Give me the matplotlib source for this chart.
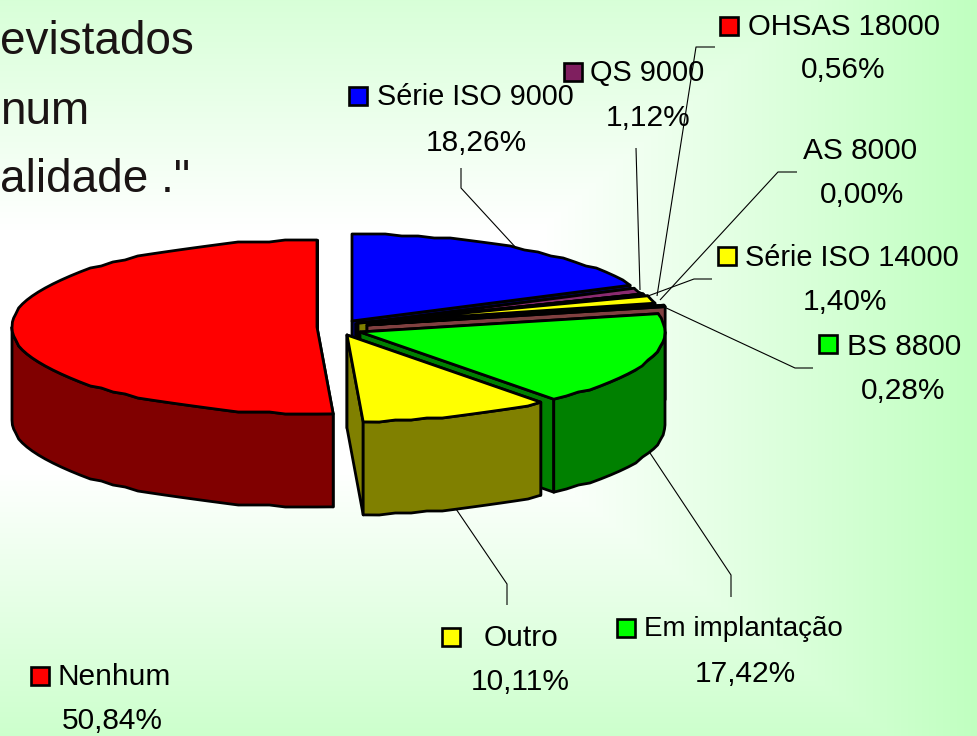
import numpy as np
import matplotlib
matplotlib.use("Agg")
import matplotlib.pyplot as plt
from matplotlib.patches import Polygon, Rectangle

# ---- data ----
categories = ["Série ISO 9000", "QS 9000", "OHSAS 18000", "AS 8000", "Série ISO 14000",
              "BS 8800", "Em implantação", "Outro", "Nenhum"]
values = [18.26, 1.12, 0.56, 0.00, 1.40, 0.28, 17.42, 10.11, 50.84]
value_labels = ["18,26%", "1,12%", "0,56%", "0,00%", "1,40%", "0,28%", "17,42%", "10,11%", "50,84%"]
title_lines = ["evistados", "num", "alidade .\""]

# ---- styles ----
top_colors = ["#0000ff", "#8a2a70", "#7f1f5f", "#ffffff", "#ffff00", "#8a4a4a", "#00ff00", "#ffff00", "#ff0000"]
side_colors = ["#000080", "#501040", "#501040", "#808080", "#808000", "#804040", "#008000", "#808000", "#800000"]
swatches = ["#0000ff", "#7f1f5f", "#ff0000", None, "#ffff00", "#00ff00", "#00ff00", "#ffff00", "#ff0000"]
name_sizes = [20.7, 20.8, 21.2, 21.5, 20.8, 21.5, 20.0, 21.5, 21.5]

# ---- layout (pixels) ----
centers = [(352, 321), (356, 324), (357, 324), (357, 324), (358, 323), (367, 325), (360, 332), (347, 335), (317, 327)]
RX, RY, DEPTH = 305, 87, 93
swatch_pos = [(349, 87), (564, 63), (720, 17), None, (718, 247), (819, 335), (617, 619), (442, 628), (31, 667)]
name_pos = [(377, 97), (590, 73), (748, 27), (803, 151), (745, 258), (847, 347), (644, 629), (484, 638), (58, 677)]
val_pos = [(476, 143), (648, 118), (843, 70), (862, 195), (845, 302), (903, 391), (745, 674), (520, 682), (112, 721)]
leaders = [[(461, 168), (461, 188), (518, 250)],
           [(636, 148), (640, 290)],
           [(715, 47), (696, 47), (657, 296)],
           [(797, 172), (778, 172), (660, 300)],
           [(712, 279), (694, 279), (648, 296)],
           [(813, 368), (795, 368), (662, 306)],
           [(731, 597), (731, 575), (648, 450)],
           [(507, 605), (507, 584), (454, 506)]]

plt.rcParams["font.family"] = ["Liberation Sans", "DejaVu Sans"]
fig = plt.figure(figsize=(9.77, 7.36), dpi=100)
ax = fig.add_axes([0, 0, 1, 1])
ax.axis("off")

# background: white plateau fading to pale green towards top, bottom and right
xx, yy = np.meshgrid(np.arange(977) + .5, np.arange(736) + .5)
drop = np.maximum.reduce([np.clip(xx - 540, 0, None) * 0.144,
                          np.clip(yy - 470, 0, None) * 0.19,
                          np.clip(230 - yy, 0, None) * 0.17])
bg = np.stack([255 - drop, np.full(drop.shape, 255.0), 255 - drop], axis=-1) / 255
ax.imshow(bg, extent=(0, 977, 736, 0), aspect="auto", zorder=0, interpolation="bilinear")
ax.set_xlim(0, 977)
ax.set_ylim(736, 0)

for pts in leaders:
    p = np.array(pts)
    ax.plot(p[:, 0], p[:, 1], color="black", lw=0.8, zorder=1, solid_capstyle="butt")


def ell(c, deg):
    a = np.radians(deg)
    return np.column_stack([c[0] + RX * np.sin(a), c[1] - RY * np.cos(a)])


def rough_arc(c, a0, a1):
    """Ellipse arc with the slightly stepped look of the low-resolution original."""
    n = max(int(abs(a1 - a0) / 3), 2)
    pts = ell(c, np.linspace(a0, a1, n + 1))
    pts[1:-1, 1] = np.round(pts[1:-1, 1] / 2) * 2
    return pts


EW = 2.0
z = 2
start = 0.0
total = sum(values)
for val, top, side, c in zip(values, top_colors, side_colors, centers):
    end = start + val / total * 360
    if val > 0:
        s_pt = ell(c, start)[0]
        e_pt = ell(c, end)[0]
        for pt in (s_pt, e_pt):
            quad = [c, pt, pt + [0, DEPTH], (c[0], c[1] + DEPTH)]
            ax.add_patch(Polygon(quad, closed=True, fc=side, ec="black", lw=EW, zorder=z, joinstyle="round"))
            z += 1
        lo, hi = max(start, 90), min(end, 270)
        if hi > lo:
            arc = rough_arc(c, lo, hi)
            face = np.vstack([arc, arc[::-1] + [0, DEPTH]])
            ax.add_patch(Polygon(face, closed=True, fc=side, ec="black", lw=EW, zorder=z, joinstyle="round"))
            z += 1
        arc = rough_arc(c, start, end)
        ax.add_patch(Polygon(np.vstack([[c], arc]), closed=True, fc=top, ec="black", lw=EW, zorder=z, joinstyle="round"))
        z += 1
    start = end

FS = 21.5
for name, label, sw, sp, nsz, np_, vp in zip(categories, value_labels, swatches, swatch_pos, name_sizes, name_pos, val_pos):
    if sw is not None:
        ax.add_patch(Rectangle(sp, 18, 18, fc=sw, ec="black", lw=1.9, zorder=200))
    ax.text(np_[0], np_[1], name, fontsize=nsz, ha="left", va="center", color="black", zorder=201)
    ax.text(vp[0], vp[1], label, fontsize=FS, ha="center", va="center", color="black", zorder=201)

for line, x, y in zip(title_lines, [0, 0, 0], [42, 112, 180]):
    ax.text(x, y, line, fontsize=33, ha="left", va="center", color="#1a1414", zorder=201)

fig.savefig("out.png", dpi=100)
